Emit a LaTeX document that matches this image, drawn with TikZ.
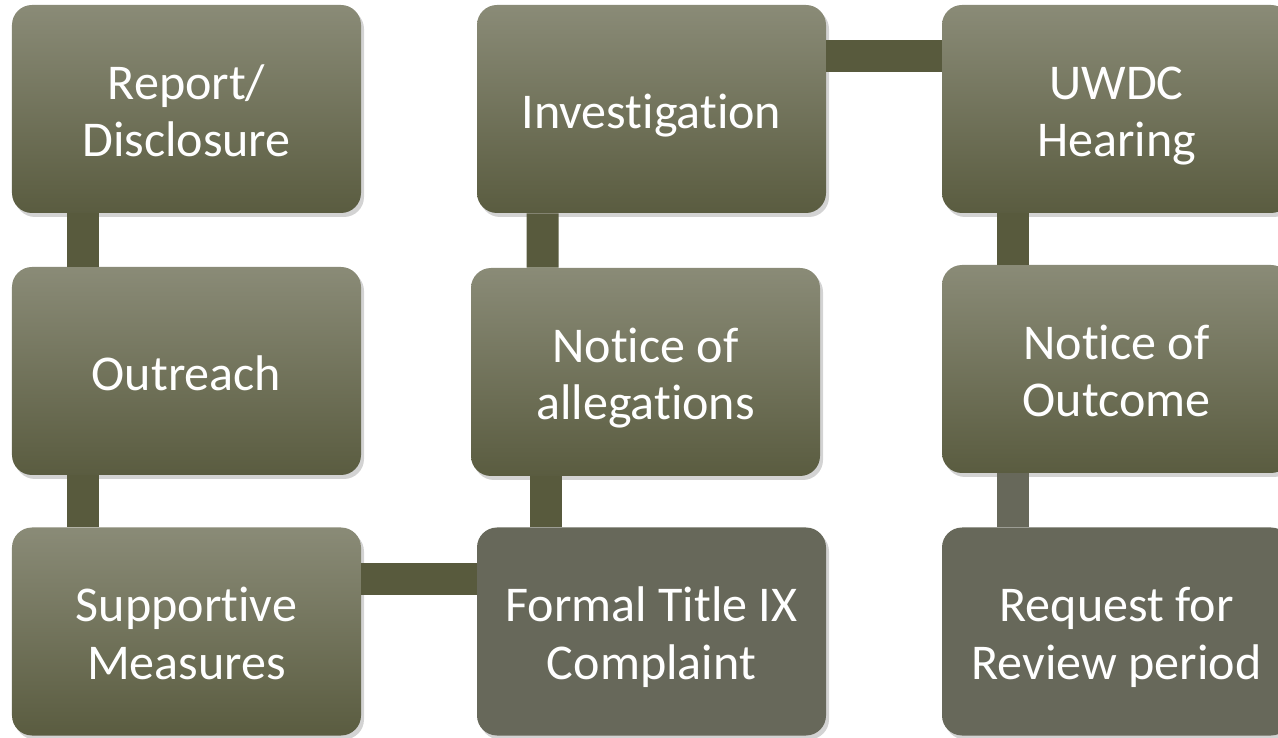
\documentclass[tikz,border=0pt]{standalone}
\usepackage{fontspec}
\setmainfont{Carlito}[Ligatures=NoCommon]
\usetikzlibrary{shadows}
\definecolor{boxtop}{HTML}{8A8B77}
\definecolor{boxmid}{HTML}{7D7E68}
\definecolor{boxbot}{HTML}{5A5C40}
\definecolor{boxflat}{HTML}{67685A}
\definecolor{linkcol}{HTML}{585A3D}
\renewcommand{\arraystretch}{1.04}
\newcommand{\stagetext}[1]{\raisebox{-0.15cm}[\height][\depth]{\begin{tabular}{@{}c@{}}#1\end{tabular}}}
\begin{document}
\begin{tikzpicture}[
    stage/.style={rectangle, rounded corners=0.4cm, minimum width=6.98cm, minimum height=4.16cm,
        text=white, font=\fontsize{28.5}{31.5}\selectfont,
        drop shadow={opacity=0.35, shadow xshift=0.06cm, shadow yshift=-0.08cm}},
    shaded/.style={stage, top color=boxtop, middle color=boxmid, bottom color=boxbot},
    flat/.style={stage, fill=boxflat},
    link/.style={line width=0.64cm, draw=linkcol}
]
    \useasboundingbox (0, 0) rectangle (25.56, 14.74);
    % первый столбец
    \node[shaded] (rep) at (3.73, 12.56) {\stagetext{Report/\\Disclosure}};
    \node[shaded] (out) at (3.73, 7.32) {\stagetext{Outreach}};
    \node[shaded] (sup) at (3.73, 2.11) {\stagetext{Supportive\\Measures}};
    % второй столбец
    \node[shaded] (inv) at (13.03, 12.56) {\stagetext{Investigation}};
    \node[shaded] (nal) at (12.91, 7.30) {\stagetext{Notice of\\allegations}};
    \node[flat] (cpl) at (13.03, 2.11) {\stagetext{Formal Title IX\\Complaint}};
    % третий столбец
    \node[shaded] (hea) at (22.33, 12.56) {\stagetext{UWDC\\Hearing}};
    \node[shaded] (noc) at (22.33, 7.36) {\stagetext{Notice of\\Outcome}};
    \node[flat] (rev) at (22.33, 2.11) {\stagetext{Request for\\Review period}};

    \draw[link] ([xshift=1.42cm]rep.south west) -- ([xshift=1.42cm]out.north west);
    \draw[link] ([xshift=1.42cm]out.south west) -- ([xshift=1.42cm]sup.north west);
    \draw[link] ([yshift=-1.04cm]sup.north east) -- ([yshift=-1.04cm]cpl.north west);
    \draw[link] ([xshift=1.38cm]cpl.north west) -- ([xshift=1.50cm]nal.south west);
    \draw[link] ([xshift=1.44cm]nal.north west) -- ([xshift=1.32cm]inv.south west);
    \draw[link] ([yshift=-1.02cm]inv.north east) -- ([yshift=-1.02cm]hea.north west);
    \draw[link] ([xshift=1.42cm]hea.south west) -- ([xshift=1.42cm]noc.north west);
    \draw[link, draw=boxflat] ([xshift=1.42cm]noc.south west) -- ([xshift=1.42cm]rev.north west);
\end{tikzpicture}
\end{document}
